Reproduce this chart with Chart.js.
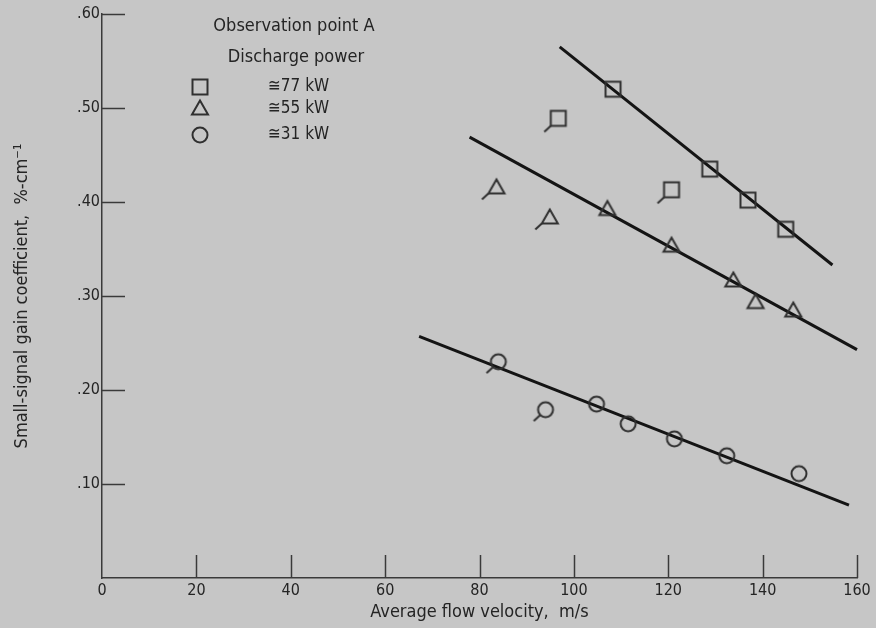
<!DOCTYPE html>
<html><head><meta charset="utf-8">
<script src="https://cdn.jsdelivr.net/npm/chart.js@4/dist/chart.umd.min.js"></script>
<style>html,body{margin:0;padding:0;background:#c6c6c6;overflow:hidden}</style>
</head><body>
<canvas id="c" width="876" height="628"></canvas>
<script>
// ---- data ----
const xTickValues = [0, 20, 40, 60, 80, 100, 120, 140, 160];
const yTickValues = [0.1, 0.2, 0.3, 0.4, 0.5, 0.6];

const kw77X = [108.3, 128.8, 136.9, 144.9];
const kw77Y = [0.520, 0.435, 0.402, 0.371];
const kw77FlagX = [96.7, 120.7];
const kw77FlagY = [0.489, 0.413];
const kw77FitX = [97.0, 154.8];
const kw77FitY = [0.565, 0.333];

const kw55X = [107.1, 120.7, 133.8, 138.5, 146.5];
const kw55Y = [0.392, 0.353, 0.316, 0.293, 0.284];
const kw55FlagX = [83.6, 94.9];
const kw55FlagY = [0.415, 0.383];
const kw55FitX = [77.9, 160.0];
const kw55FitY = [0.469, 0.243];

const kw31X = [104.8, 111.5, 121.3, 132.4, 147.7];
const kw31Y = [0.185, 0.164, 0.148, 0.130, 0.111];
const kw31FlagX = [84.0, 94.0];
const kw31FlagY = [0.230, 0.179];
const kw31FitX = [67.2, 158.3];
const kw31FitY = [0.257, 0.0775];

const legendTitle1 = 'Observation point A';
const legendTitle2 = 'Discharge power';
const legendLabels = ['\u224577 kW', '\u224555 kW', '\u224531 kW'];
const xTitle = 'Average flow velocity,  m/s';
const yTitle = 'Small-signal gain coefficient,  %-cm\u207B\u00B9';

// ---- styling ----
const BG = '#c6c6c6';
const INK = '#242424';
const MARK = '#303030';
const LINE = '#141414';
const FONT = '"Liberation Sans Narrow", "DejaVu Sans Condensed", "Noto Sans", sans-serif';

const pts = (xs, ys) => xs.map((x, i) => ({x: x, y: ys[i]}));

function drawShape(ctx, shape, cx, cy) {
  ctx.beginPath();
  if (shape === 'rect') {
    ctx.rect(cx - 7.5, cy - 7.5, 15, 15);
  } else if (shape === 'triangle') {
    ctx.moveTo(cx, cy - 8.5);
    ctx.lineTo(cx + 8, cy + 5.5);
    ctx.lineTo(cx - 8, cy + 5.5);
    ctx.closePath();
  } else {
    ctx.arc(cx, cy, 7.5, 0, Math.PI * 2);
  }
  ctx.stroke();
}
function markerCanvas(shape, flag) {
  const c = document.createElement('canvas');
  c.width = 40; c.height = 40;
  const g = c.getContext('2d');
  g.strokeStyle = MARK; g.lineWidth = 2;
  drawShape(g, shape, 20, 20);
  if (flag) {
    g.beginPath();
    let sx, sy;
    if (shape === 'rect') { sx = 12.5; sy = 27.5; }
    else if (shape === 'triangle') { sx = 12; sy = 25.5; }
    else { sx = 14.7; sy = 25.3; }
    g.moveTo(sx, sy);
    g.lineTo(sx - 6.5, sy + 6);
    g.stroke();
  }
  return c;
}
const sqM = markerCanvas('rect', false), sqF = markerCanvas('rect', true);
const trM = markerCanvas('triangle', false), trF = markerCanvas('triangle', true);
const ciM = markerCanvas('circle', false), ciF = markerCanvas('circle', true);

function fit(xs, ys) {
  return {type: 'line', data: pts(xs, ys), borderColor: LINE, borderWidth: 3, pointRadius: 0, fill: false, clip: false, order: 2};
}
function marks(xs, ys, img) {
  return {type: 'scatter', data: pts(xs, ys), pointStyle: img, pointRadius: 10, borderColor: MARK, backgroundColor: 'rgba(0,0,0,0)', order: 1, clip: false};
}

const bgPlugin = {
  id: 'bg',
  beforeDraw(chart) {
    const ctx = chart.ctx;
    ctx.save(); ctx.fillStyle = BG; ctx.fillRect(0, 0, chart.width, chart.height); ctx.restore();
  }
};
const tickPlugin = {
  id: 'inTicks',
  afterDraw(chart) {
    const ctx = chart.ctx, xs = chart.scales.x, ys = chart.scales.y;
    const a = chart.chartArea;
    ctx.save();
    ctx.strokeStyle = '#3a3a3a'; ctx.lineWidth = 1.5;
    yTickValues.forEach(v => {
      const y = Math.round(ys.getPixelForValue(v)) + 0.5;
      ctx.beginPath(); ctx.moveTo(a.left, y); ctx.lineTo(a.left + 23, y); ctx.stroke();
    });
    xTickValues.forEach(v => {
      if (v === 0) return;
      const x = Math.round(xs.getPixelForValue(v)) + 0.5;
      ctx.beginPath(); ctx.moveTo(x, a.bottom); ctx.lineTo(x, a.bottom - 23); ctx.stroke();
    });
    // legend
    ctx.fillStyle = INK;
    ctx.font = '18px ' + FONT;
    ctx.textAlign = 'center'; ctx.textBaseline = 'middle';
    ctx.fillText(legendTitle1, 294, 26);
    ctx.fillText(legendTitle2, 296, 57);
    ctx.textAlign = 'left';
    ctx.font = '17px ' + FONT;
    const rows = [87, 109, 135];
    const imgs = [sqM, trM, ciM];
    rows.forEach((ry, i) => {
      ctx.drawImage(imgs[i], 200 - 20, ry - 20);
      ctx.fillText(legendLabels[i], 268, ry);
    });
    ctx.restore();
  }
};

new Chart(document.getElementById('c'), {
  type: 'scatter',
  data: {
    datasets: [
      fit(kw77FitX, kw77FitY), fit(kw55FitX, kw55FitY), fit(kw31FitX, kw31FitY),
      marks(kw77X, kw77Y, sqM), marks(kw77FlagX, kw77FlagY, sqF),
      marks(kw55X, kw55Y, trM), marks(kw55FlagX, kw55FlagY, trF),
      marks(kw31X, kw31Y, ciM), marks(kw31FlagX, kw31FlagY, ciF)
    ]
  },
  options: {
    responsive: false,
    animation: false,
    events: [],
    layout: {padding: {top: 14, right: 19, left: 0, bottom: 0}},
    plugins: {legend: {display: false}, tooltip: {enabled: false}},
    scales: {
      x: {
        type: 'linear', min: 0, max: 160,
        afterBuildTicks: s => { s.ticks = xTickValues.map(v => ({value: v})); },
        afterFit: s => { s.height = 50; },
        grid: {display: true, drawOnChartArea: false, drawTicks: false},
        border: {display: true, color: '#3a3a3a', width: 1.5},
        ticks: {color: INK, font: {family: FONT, size: 16}, padding: 3, maxRotation: 0},
        title: {display: true, text: xTitle, color: INK, font: {family: FONT, size: 18}, padding: {top: 0, bottom: 5}}
      },
      y: {
        type: 'linear', min: 0, max: 0.6,
        afterBuildTicks: s => { s.ticks = yTickValues.map(v => ({value: v})); },
        afterFit: s => { s.width = 102; },
        grid: {display: true, drawOnChartArea: false, drawTicks: false},
        border: {display: true, color: '#3a3a3a', width: 1.5},
        ticks: {color: INK, font: {family: FONT, size: 16}, padding: 2,
          callback: v => '.' + Math.round(v * 100).toString().padStart(2, '0')},
        title: {display: true, text: yTitle, color: INK, font: {family: FONT, size: 18}, padding: {top: 12, bottom: 0}}
      }
    }
  },
  plugins: [bgPlugin, tickPlugin]
});
</script>
</body></html>
